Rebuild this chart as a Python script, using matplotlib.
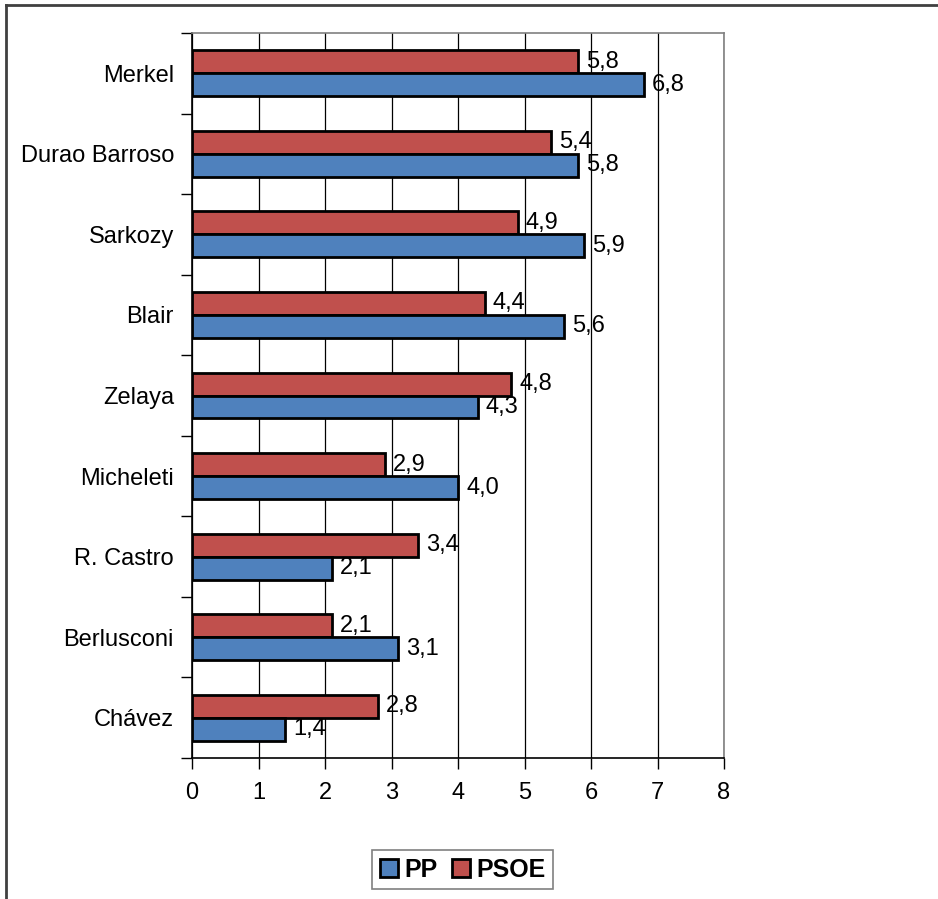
import numpy as np
import matplotlib
matplotlib.use("Agg")
import matplotlib.pyplot as plt
from matplotlib.lines import Line2D
from matplotlib.patches import Patch

plt.rcParams['font.family'] = ['Liberation Sans', 'DejaVu Sans']

# --- données ---
politicos = ["Merkel", "Durao Barroso", "Sarkozy", "Blair", "Zelaya",
             "Micheleti", "R. Castro", "Berlusconi", "Chávez"]
pp = [6.8, 5.8, 5.9, 5.6, 4.3, 4.0, 2.1, 3.1, 1.4]
psoe = [5.8, 5.4, 4.9, 4.4, 4.8, 2.9, 3.4, 2.1, 2.8]

col_pp = "#4F81BD"
col_psoe = "#C0504D"

fig = plt.figure(figsize=(9.38, 8.99), dpi=100)
ax = fig.add_axes([0.2047, 0.1568, 0.5672, 0.8065])

y = np.arange(len(politicos))
h = 0.285
ax.barh(y - h / 2, psoe, height=h, color=col_psoe, edgecolor="black", linewidth=2, zorder=3)
ax.barh(y + h / 2, pp, height=h, color=col_pp, edgecolor="black", linewidth=2, zorder=3)

for yi, v in zip(y, psoe):
    ax.text(v + 0.12, yi - h / 2, f"{v:.1f}".replace(".", ","), va="center", ha="left", fontsize=17, zorder=4)
for yi, v in zip(y, pp):
    ax.text(v + 0.12, yi + h / 2, f"{v:.1f}".replace(".", ","), va="center", ha="left", fontsize=17, zorder=4)

ax.set_xlim(0, 8)
ax.set_ylim(len(politicos) - 0.5, -0.5)
ax.set_xticks(range(0, 9))
ax.set_yticks(y)
ax.set_yticklabels(politicos)
ax.set_yticks(np.arange(-0.5, len(politicos)), minor=True)
ax.tick_params(axis="y", which="major", length=0, pad=13, labelsize=17)
ax.tick_params(axis="y", which="minor", length=8, width=1, direction="out")
ax.tick_params(axis="x", length=8, width=1, direction="out", pad=9, labelsize=17)

ax.grid(axis="x", color="black", linewidth=0.9, zorder=0)
ax.set_axisbelow(True)
for s in ["left", "bottom"]:
    ax.spines[s].set_color("black")
    ax.spines[s].set_linewidth(1.2)
for s in ["top", "right"]:
    ax.spines[s].set_color("#808080")
    ax.spines[s].set_linewidth(1.2)

handles = [Patch(facecolor=col_pp, edgecolor="black", linewidth=2, label="PP"),
           Patch(facecolor=col_psoe, edgecolor="black", linewidth=2, label="PSOE")]
leg = fig.legend(handles=handles, loc="center", bbox_to_anchor=(0.4936, 0.0323), ncol=2,
                 prop={"weight": "bold", "size": 18}, frameon=True, fancybox=False,
                 handlelength=0.72, handleheight=0.72, handletextpad=0.25, columnspacing=0.6,
                 borderpad=0.3)
leg.get_frame().set_edgecolor("#606060")
leg.get_frame().set_linewidth(1.2)

# cadre extérieur (haut et gauche)
fig.add_artist(Line2D([0.0064, 1.0], [1 - 5 / 899, 1 - 5 / 899], transform=fig.transFigure,
                      color="#404040", linewidth=2))
fig.add_artist(Line2D([0.0069, 0.0069], [0.0, 1 - 5 / 899], transform=fig.transFigure,
                      color="#404040", linewidth=2))

fig.savefig("out.png", dpi=100)
